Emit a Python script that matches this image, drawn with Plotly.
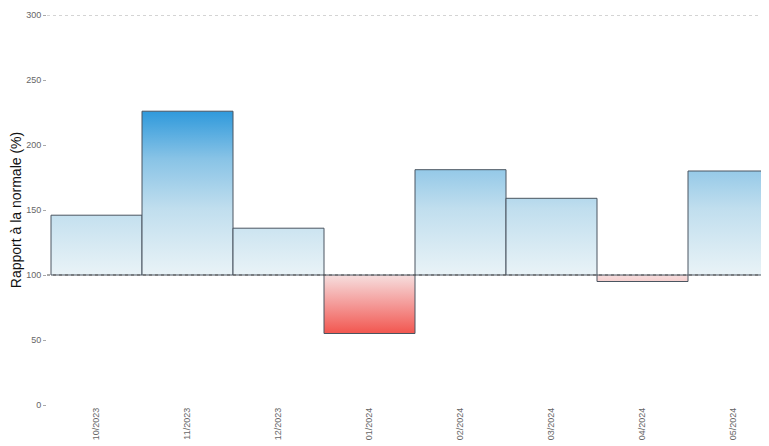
import plotly.graph_objects as go

months = ["10/2023", "11/2023", "12/2023", "01/2024", "02/2024", "03/2024", "04/2024", "05/2024"]
ratios = [146, 226, 136, 55, 181, 159, 95, 180]
baseline = 100
y_ticks = [0, 50, 100, 150, 200, 250, 300]

fig = go.Figure()
half = 0.5
for i, (m, v) in enumerate(zip(months, ratios)):
    xs = [i - half, i + half, i + half, i - half, i - half]
    ys = [baseline, baseline, v, v, baseline]
    if v >= baseline:
        grad = dict(type="vertical", start=baseline, stop=228,
                    colorscale=[[0, "#e9f3f7"], [0.4, "#c0deee"], [0.7, "#88c3e6"], [1, "#2a97db"]])
    else:
        grad = dict(type="vertical", start=55, stop=baseline,
                    colorscale=[[0, "#f2564f"], [0.5, "#f49a98"], [1, "#f6dede"]])
    fig.add_trace(go.Scatter(
        x=xs, y=ys, mode="lines", fill="toself", fillgradient=grad,
        line=dict(color="#4a5560", width=1), name=m, showlegend=False,
        hoverinfo="skip"))

fig.add_hline(y=baseline, line=dict(color="#555555", width=1, dash="dot"))
fig.add_hline(y=300, line=dict(color="#aaaaaa", width=1, dash="dot"))

fig.update_layout(
    width=761, height=438,
    margin=dict(l=39, r=0, t=7, b=41),
    plot_bgcolor="white", paper_bgcolor="white",
    font=dict(family="Liberation Sans, Arial, sans-serif"),
    xaxis=dict(range=[-0.544, 7.39], tickvals=list(range(len(months))), ticktext=months,
               tickangle=-90, tickfont=dict(size=9, color="#666666"), showgrid=False,
               zeroline=False, showline=False, fixedrange=True, automargin=False),
    yaxis=dict(range=[0, 300], tickvals=y_ticks, tickfont=dict(size=9, color="#666666"),
               showgrid=False, zeroline=False, showline=False, ticks="outside",
               ticklen=3, tickcolor="#aaaaaa", automargin=False,
               title=dict(text="Rapport à la normale (%)", font=dict(size=14, color="#111111"), standoff=8)),
)

fig.write_html("out.html")
